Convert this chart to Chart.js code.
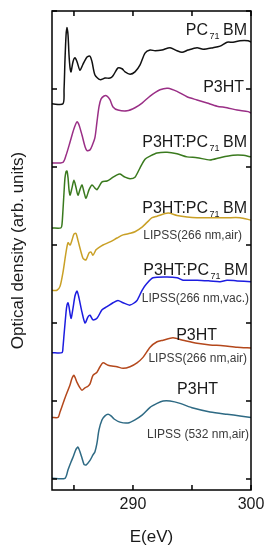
<!DOCTYPE html>
<html>
<head>
<meta charset="utf-8">
<script src="https://cdn.jsdelivr.net/npm/chart.js@4.4.0/dist/chart.umd.min.js"></script>
<style>
  html, body { margin: 0; padding: 0; background: #fff; }
</style>
</head>
<body>
<canvas id="nexafsChart" width="272" height="550"></canvas>
<script>
// Энергии (эВ) и оптическая плотность (отн. ед., со сдвигом) для каждого спектра
const pcbmE  = [283.14, 284.07, 284.16, 284.24, 284.33, 284.41, 284.50, 284.58, 284.67, 284.75, 284.92, 285.09, 285.26, 285.51, 285.77, 286.11, 286.36, 286.53, 286.78, 287.21, 287.63, 288.06, 288.31, 288.73, 289.07, 289.33, 289.75, 290.17, 290.60, 291.02, 291.45, 291.87, 292.46, 293.14, 293.73, 294.16, 294.67, 295.43, 295.94, 296.78, 297.38, 297.97, 298.48, 299.07, 299.75, 300.00];
const pcbmOD = [4.81, 4.81, 4.99, 5.37, 5.69, 5.79, 5.69, 5.44, 5.27, 5.22, 5.35, 5.40, 5.35, 5.24, 5.32, 5.41, 5.42, 5.35, 5.18, 5.12, 5.14, 5.14, 5.17, 5.27, 5.26, 5.22, 5.19, 5.22, 5.31, 5.46, 5.50, 5.49, 5.50, 5.53, 5.49, 5.47, 5.50, 5.53, 5.51, 5.53, 5.55, 5.60, 5.60, 5.62, 5.62, 5.60];

const p3htE  = [283.14, 284.07, 284.33, 284.67, 285.00, 285.26, 285.43, 285.68, 285.94, 286.11, 286.36, 286.53, 286.78, 286.95, 287.12, 287.29, 287.55, 287.80, 288.06, 288.31, 288.73, 289.50, 290.17, 290.77, 291.45, 292.29, 292.97, 293.73, 294.58, 295.43, 296.28, 297.12, 297.97, 298.82, 299.75, 300.00];
const p3htOD = [4.05, 4.06, 4.15, 4.32, 4.49, 4.58, 4.54, 4.41, 4.26, 4.21, 4.22, 4.27, 4.38, 4.58, 4.77, 4.87, 4.91, 4.91, 4.86, 4.77, 4.73, 4.72, 4.76, 4.82, 4.91, 4.99, 5.01, 4.97, 4.90, 4.86, 4.82, 4.78, 4.76, 4.73, 4.71, 4.69];

const blendE  = [283.14, 283.90, 283.99, 284.07, 284.16, 284.24, 284.33, 284.41, 284.50, 284.58, 284.67, 284.83, 285.00, 285.17, 285.34, 285.51, 285.68, 285.85, 286.02, 286.28, 286.53, 286.78, 286.95, 287.38, 287.80, 288.23, 288.65, 288.90, 289.33, 289.75, 290.17, 290.60, 291.02, 291.45, 292.04, 292.89, 293.73, 294.58, 295.43, 296.53, 297.38, 298.48, 299.33, 300.00];
const blendOD = [3.22, 3.22, 3.27, 3.45, 3.68, 3.86, 3.94, 3.95, 3.86, 3.71, 3.64, 3.73, 3.83, 3.74, 3.64, 3.71, 3.77, 3.68, 3.60, 3.71, 3.77, 3.73, 3.71, 3.81, 3.82, 3.86, 3.90, 3.91, 3.87, 3.85, 3.87, 3.99, 4.10, 4.14, 4.18, 4.19, 4.17, 4.13, 4.12, 4.09, 4.12, 4.15, 4.15, 4.13];

const blendAirE  = [283.14, 283.56, 283.82, 284.07, 284.33, 284.50, 284.67, 284.83, 285.00, 285.17, 285.34, 285.60, 285.77, 286.02, 286.28, 286.45, 286.61, 286.87, 287.04, 287.46, 288.06, 288.65, 289.16, 289.75, 290.17, 290.77, 291.19, 291.62, 292.04, 292.97, 293.73, 294.58, 295.43, 296.53, 297.97, 299.07, 300.00];
const blendAirOD = [2.42, 2.42, 2.47, 2.65, 2.91, 3.03, 3.00, 3.06, 3.14, 3.15, 3.06, 2.91, 2.83, 2.81, 2.90, 2.91, 2.87, 2.94, 2.96, 3.00, 3.04, 3.09, 3.13, 3.15, 3.17, 3.23, 3.29, 3.35, 3.37, 3.41, 3.38, 3.36, 3.35, 3.35, 3.35, 3.35, 3.32];

const blendVacE  = [283.14, 283.99, 284.07, 284.16, 284.33, 284.41, 284.50, 284.58, 284.75, 284.92, 285.09, 285.26, 285.43, 285.68, 285.94, 286.19, 286.36, 286.61, 286.95, 287.38, 287.80, 288.31, 288.73, 289.16, 289.75, 290.34, 290.77, 291.19, 291.70, 292.89, 293.73, 294.24, 295.43, 296.53, 297.38, 297.97, 298.82, 300.00];
const blendVacOD = [1.62, 1.62, 1.69, 1.85, 2.14, 2.23, 2.26, 2.21, 2.06, 2.19, 2.35, 2.41, 2.32, 2.14, 2.00, 2.08, 2.10, 2.04, 2.06, 2.17, 2.21, 2.26, 2.29, 2.26, 2.23, 2.29, 2.42, 2.51, 2.58, 2.59, 2.58, 2.55, 2.55, 2.54, 2.53, 2.55, 2.54, 2.53];

const p3ht266E  = [283.14, 283.65, 283.82, 284.24, 284.67, 284.83, 285.00, 285.26, 285.51, 285.68, 285.94, 286.19, 286.36, 286.61, 286.95, 287.21, 287.46, 287.89, 288.65, 289.16, 289.75, 290.34, 290.85, 291.45, 292.04, 292.55, 293.39, 294.24, 295.43, 296.53, 297.63, 298.82, 300.00];
const p3ht266OD = [0.79, 0.79, 0.86, 1.04, 1.21, 1.29, 1.33, 1.24, 1.17, 1.14, 1.17, 1.19, 1.22, 1.33, 1.37, 1.44, 1.49, 1.46, 1.44, 1.42, 1.44, 1.49, 1.56, 1.69, 1.76, 1.78, 1.81, 1.78, 1.74, 1.72, 1.71, 1.69, 1.68];

const p3ht532E  = [283.14, 284.24, 284.50, 284.75, 284.92, 285.17, 285.34, 285.51, 285.68, 285.85, 286.02, 286.36, 286.61, 286.78, 286.95, 287.12, 287.38, 287.63, 287.89, 288.14, 288.40, 288.90, 289.58, 290.17, 290.77, 291.45, 292.04, 292.55, 293.14, 293.99, 295.09, 296.53, 297.97, 299.07, 300.00];
const p3ht532OD = [0.01, 0.01, 0.12, 0.22, 0.28, 0.38, 0.41, 0.35, 0.27, 0.19, 0.18, 0.24, 0.31, 0.35, 0.46, 0.63, 0.76, 0.81, 0.83, 0.81, 0.77, 0.73, 0.72, 0.76, 0.82, 0.92, 0.97, 1.00, 1.00, 0.97, 0.91, 0.86, 0.83, 0.81, 0.79];

const xTicks = [285, 290, 295, 300];
const xTickLabels = [290, 300];
const yTicks = [0, 1, 2, 3, 4, 5, 6];

// Подписи кривых: основной текст, нижний индекс, продолжение; привязка в координатах данных
const curveLabels = [
    { pre: 'PC', sub: '71', post: 'BM', x: 299.67, y: 5.77, align: 'right', size: 16 },
    { pre: 'P3HT', sub: '', post: '', x: 299.41, y: 5.03, align: 'right', size: 16 },
    { pre: 'P3HT:PC', sub: '71', post: 'BM', x: 299.67, y: 4.33, align: 'right', size: 16 },
    { pre: 'P3HT:PC', sub: '71', post: 'BM', x: 299.67, y: 3.49, align: 'right', size: 16 },
    { pre: 'LIPSS(266 nm,air)', sub: '', post: '', x: 299.24, y: 3.13, align: 'right', size: 12 },
    { pre: 'P3HT:PC', sub: '71', post: 'BM', x: 299.75, y: 2.69, align: 'right', size: 16 },
    { pre: 'LIPSS(266 nm,vac.)', sub: '', post: '', x: 299.84, y: 2.32, align: 'right', size: 12 },
    { pre: 'P3HT', sub: '', post: '', x: 295.39, y: 1.86, align: 'center', size: 16 },
    { pre: 'LIPSS(266 nm,air)', sub: '', post: '', x: 299.67, y: 1.56, align: 'right', size: 12 },
    { pre: 'P3HT', sub: '', post: '', x: 295.47, y: 1.17, align: 'center', size: 16 },
    { pre: 'LIPSS (532 nm,air)', sub: '', post: '', x: 299.84, y: 0.58, align: 'right', size: 12 }
];

const FONT = "'Liberation Sans', Arial, sans-serif";

function toPoints(es, ods) {
    return es.map((e, i) => ({ x: e, y: ods[i] }));
}

function line(data, color) {
    return {
        data: data,
        borderColor: color,
        borderWidth: 1.5,
        pointRadius: 0,
        tension: 0.25,
        fill: false
    };
}

const datasets = [
    line(toPoints(pcbmE, pcbmOD), '#111111'),
    line(toPoints(p3htE, p3htOD), '#9a2f86'),
    line(toPoints(blendE, blendOD), '#3a7a1e'),
    line(toPoints(blendAirE, blendAirOD), '#c9a026'),
    line(toPoints(blendVacE, blendVacOD), '#1c1ce0'),
    line(toPoints(p3ht266E, p3ht266OD), '#b4481c'),
    line(toPoints(p3ht532E, p3ht532OD), '#2e6a84')
];

// Рамка и внутренние засечки со всех четырёх сторон
const frameTicks = {
    id: 'frameTicks',
    afterDatasetsDraw(chart) {
        const { ctx, chartArea: a, scales: { x, y } } = chart;
        const len = 5;
        ctx.save();
        ctx.strokeStyle = '#000';
        ctx.lineWidth = 1.5;
        ctx.strokeRect(a.left, a.top, a.right - a.left, a.bottom - a.top);
        ctx.beginPath();
        xTicks.forEach(v => {
            const px = x.getPixelForValue(v);
            ctx.moveTo(px, a.bottom); ctx.lineTo(px, a.bottom - len);
            ctx.moveTo(px, a.top); ctx.lineTo(px, a.top + len);
        });
        yTicks.forEach(v => {
            const py = y.getPixelForValue(v);
            ctx.moveTo(a.left, py); ctx.lineTo(a.left + len, py);
            ctx.moveTo(a.right, py); ctx.lineTo(a.right - len, py);
        });
        ctx.stroke();
        ctx.restore();
    }
};

// Подписи кривых с нижним индексом
const curveText = {
    id: 'curveText',
    afterDraw(chart) {
        const { ctx, scales: { x, y } } = chart;
        ctx.save();
        ctx.textBaseline = 'alphabetic';
        ctx.textAlign = 'left';
        curveLabels.forEach(l => {
            const mainFont = l.size + 'px ' + FONT;
            const subFont = Math.round(l.size * 0.55) + 'px ' + FONT;
            ctx.font = mainFont;
            const wPre = ctx.measureText(l.pre).width;
            const wPost = l.post ? ctx.measureText(l.post).width : 0;
            ctx.font = subFont;
            const wSub = l.sub ? ctx.measureText(l.sub).width : 0;
            const gapA = l.sub ? 1.5 : 0;
            const gapB = l.sub ? 3.5 : 0;
            const total = wPre + gapA + wSub + gapB + wPost;
            const ax = x.getPixelForValue(l.x);
            const base = y.getPixelForValue(l.y) + l.size * 0.36;
            let sx = l.align === 'right' ? ax - total : ax - total / 2;
            ctx.fillStyle = l.size < 14 ? '#3a3a3a' : '#1a1a1a';
            ctx.font = mainFont;
            ctx.fillText(l.pre, sx, base);
            sx += wPre + gapA;
            if (l.sub) {
                ctx.font = subFont;
                ctx.fillText(l.sub, sx, base + l.size * 0.25);
                sx += wSub + gapB;
            }
            if (l.post) {
                ctx.font = mainFont;
                ctx.fillText(l.post, sx, base);
            }
        });
        ctx.restore();
    }
};

new Chart(document.getElementById('nexafsChart'), {
    type: 'line',
    data: { datasets: datasets },
    options: {
        responsive: false,
        animation: false,
        layout: { padding: { top: 11, right: 21, left: 0, bottom: 0 } },
        plugins: { legend: { display: false }, tooltip: { enabled: false } },
        scales: {
            x: {
                type: 'linear',
                min: 283.14,
                max: 300,
                grid: { display: false, drawTicks: false },
                border: { display: false },
                afterBuildTicks: s => { s.ticks = xTicks.map(v => ({ value: v })); },
                afterFit: s => { s.height = 60; },
                ticks: {
                    autoSkip: false,
                    maxRotation: 0,
                    padding: 5,
                    color: '#1a1a1a',
                    font: { family: FONT, size: 16 },
                    callback: v => xTickLabels.includes(v) ? String(v) : ''
                },
                title: {
                    display: true,
                    text: 'E(eV)',
                    color: '#1a1a1a',
                    font: { family: FONT, size: 17 },
                    padding: { top: 0, bottom: 2 }
                }
            },
            y: {
                min: -0.14,
                max: 6,
                grid: { display: false, drawTicks: false },
                border: { display: false },
                afterBuildTicks: s => { s.ticks = yTicks.map(v => ({ value: v })); },
                afterFit: s => { s.width = 52; },
                ticks: { display: false },
                title: {
                    display: true,
                    text: 'Optical density (arb. units)',
                    color: '#1a1a1a',
                    font: { family: FONT, size: 17 },
                    padding: { top: 8, bottom: 0 }
                }
            }
        }
    },
    plugins: [frameTicks, curveText]
});
</script>
</body>
</html>
